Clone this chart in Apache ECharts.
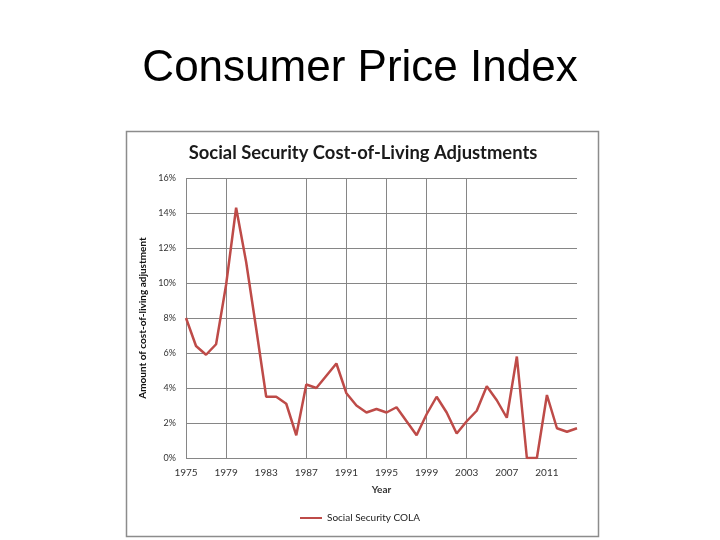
<!DOCTYPE html>
<html><head><meta charset="utf-8">
<script src="https://cdn.jsdelivr.net/npm/echarts@6/dist/echarts.min.js"></script>
<style>html,body{margin:0;padding:0;background:#fff}#c{width:720px;height:540px}</style>
</head><body><div id="c"></div>
<script>
const years = [];
for (let y = 1975; y <= 2014; y++) years.push(String(y));
const colaValues = [8.0, 6.4, 5.9, 6.5, 9.9, 14.3, 11.2, 7.4, 3.5, 3.5,
  3.1, 1.3, 4.2, 4.0, 4.7, 5.4, 3.7, 3.0, 2.6, 2.8,
  2.6, 2.9, 2.1, 1.3, 2.5, 3.5, 2.6, 1.4, 2.1, 2.7,
  4.1, 3.3, 2.3, 5.8, 0.0, 0.0, 3.6, 1.7, 1.5, 1.7];
const labelYears = ['1975','1979','1983','1987','1991','1995','1999','2003','2007','2011'];
const gridYears = ['1975','1979','1987','1991','1995','1999','2003'];

const chart = echarts.init(document.getElementById('c'), null, {renderer: 'canvas'});
chart.setOption({
  animation: false,
  backgroundColor: '#fff',
  graphic: [{
    type: 'rect', shape: {x: 126.5, y: 131.5, width: 472, height: 405},
    style: {fill: 'none', stroke: '#8c8c8c', lineWidth: 1.5}, z: -1
  }],
  title: [{
    text: 'Consumer Price Index', left: 'center', top: 42,
    textStyle: {fontFamily: 'Liberation Sans', fontSize: 44, fontWeight: 'normal', color: '#000'}
  }, {
    text: 'Social Security Cost-of-Living Adjustments', left: 358, textAlign: 'center', top: 139,
    textStyle: {fontFamily: 'Lato', fontSize: 18.4, fontWeight: 'bold', color: '#1a1a1a'}
  }],
  legend: {
    bottom: 12, left: 'center', itemWidth: 22, itemHeight: 2, itemGap: 4,
    icon: 'rect',
    textStyle: {fontFamily: 'Lato', fontSize: 10, color: '#222'},
    data: ['Social Security COLA']
  },
  grid: {left: 186, right: 143, top: 178, bottom: 82, containLabel: false},
  xAxis: {
    type: 'category', data: years, boundaryGap: false,
    name: 'Year', nameLocation: 'middle', nameGap: 27,
    nameTextStyle: {fontFamily: 'Lato', fontSize: 10, fontWeight: 'bold', color: '#333'},
    axisLine: {show: false},
    axisTick: {show: false},
    axisLabel: {
      interval: (i, v) => labelYears.includes(v),
      fontFamily: 'Lato', fontSize: 10, color: '#333', margin: 10
    },
    splitLine: {show: true, interval: (i, v) => gridYears.includes(v),
      lineStyle: {color: '#868686', width: 1}}
  },
  yAxis: {
    type: 'value', min: 0, max: 16, interval: 2,
    name: 'Amount of cost-of-living adjustment', nameLocation: 'middle', nameGap: 33,
    nameTextStyle: {fontFamily: 'Lato', fontSize: 10, fontWeight: 'bold', color: '#111'},
    axisLine: {show: false}, axisTick: {show: false},
    axisLabel: {formatter: '{value}%', fontFamily: 'Lato', fontSize: 9, color: '#333', margin: 10},
    splitLine: {show: true, lineStyle: {color: '#868686', width: 1}}
  },
  series: [{
    name: 'Social Security COLA', type: 'line', data: colaValues,
    showSymbol: false, symbol: 'none',
    lineStyle: {color: '#BE4B48', width: 2.5},
    itemStyle: {color: '#BE4B48'}
  }]
});
</script></body></html>
